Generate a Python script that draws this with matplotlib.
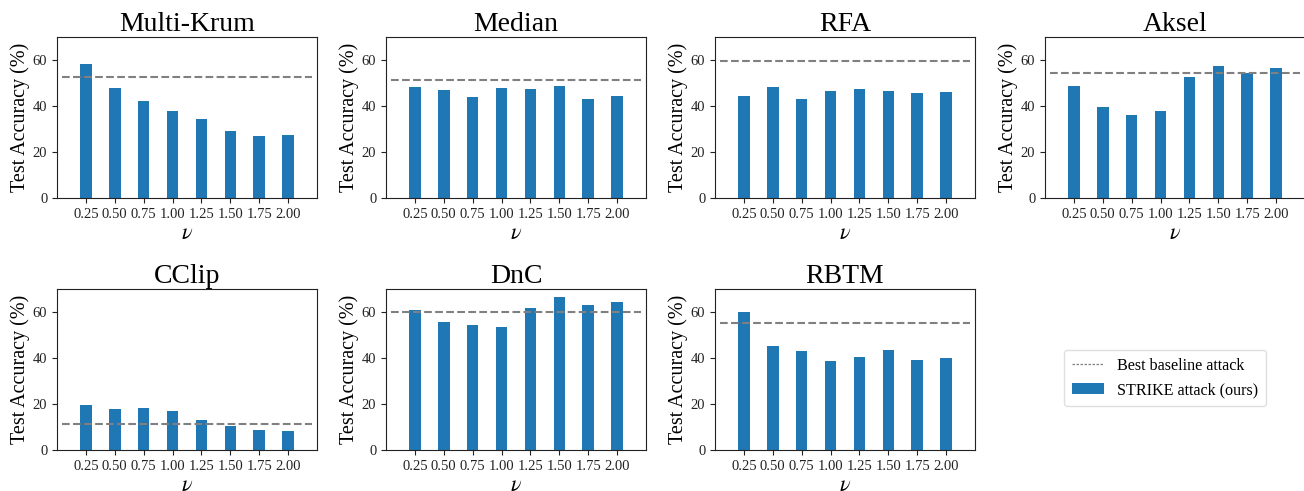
import matplotlib
matplotlib.use("Agg")
import matplotlib.pyplot as plt
from matplotlib.lines import Line2D
from matplotlib.patches import Patch

plt.rcParams['font.family'] = ['Liberation Serif', 'DejaVu Serif']
plt.rcParams['mathtext.fontset'] = 'stix'

nu = [0.25, 0.50, 0.75, 1.00, 1.25, 1.50, 1.75, 2.00]
tick_labels = ["0.25", "0.50", "0.75", "1.00", "1.25", "1.50", "1.75", "2.00"]

defenses = ["Multi-Krum", "Median", "RFA", "Aksel", "CClip", "DnC", "RBTM"]

strike_multikrum = [58.4, 47.8, 42.3, 38.0, 34.5, 29.3, 27.1, 27.5]
strike_median = [48.4, 47.1, 44.1, 48.0, 47.5, 48.8, 43.2, 44.5]
strike_rfa = [44.5, 48.4, 43.2, 46.7, 47.5, 46.7, 45.8, 46.2]
strike_aksel = [48.8, 39.7, 36.2, 38.0, 52.8, 57.5, 54.5, 56.5]
strike_cclip = [19.7, 18.0, 18.4, 17.1, 13.2, 10.6, 8.8, 8.4]
strike_dnc = [61.0, 55.8, 54.5, 53.6, 61.9, 66.7, 63.2, 64.5]
strike_rbtm = [60.1, 45.4, 43.2, 38.8, 40.6, 43.6, 39.3, 40.1]

baseline_best = [52.6, 51.3, 59.7, 54.2, 11.3, 59.9, 55.4]

strike_all = [strike_multikrum, strike_median, strike_rfa, strike_aksel,
              strike_cclip, strike_dnc, strike_rbtm]

bar_color = "#1f77b4"
line_color = "#808080"
frame_color = "#222222"

fig = plt.figure(figsize=(13.04, 4.91), dpi=100)
W, H = 1304.0, 491.0
col_left = [57, 386, 715, 1045]
ax_w = 260
rows = [(37, 198), (289, 450)]

for i, name in enumerate(defenses):
    r, c = divmod(i, 4)
    top, bottom = rows[r]
    ax = fig.add_axes([col_left[c] / W, 1 - bottom / H, ax_w / W, (bottom - top) / H])
    ax.bar(nu, strike_all[i], width=0.1, color=bar_color, zorder=2)
    ax.axhline(baseline_best[i], xmin=0.02, xmax=0.98, color=line_color,
               linestyle="--", linewidth=1.5, zorder=3)
    ax.set_xlim(0, 2.25)
    ax.set_ylim(0, 70)
    ax.set_xticks(nu)
    ax.set_xticklabels(tick_labels)
    ax.set_yticks([0, 20, 40, 60])
    for s in ax.spines.values():
        s.set_color(frame_color)
    ax.tick_params(axis="both", length=3.5, width=0.8, color=frame_color,
                   labelcolor=frame_color, labelsize=10.5, pad=3.5)
    ax.set_title(name, fontsize=20, pad=4)
    ax.set_ylabel("Test Accuracy (%)", fontsize=14.5, labelpad=2)
    ax.set_xlabel(r"$\nu$", fontsize=16, labelpad=3)

handles = [Line2D([0], [0], color=line_color, linestyle="--", linewidth=0.9,
                  dashes=(2, 1.2)),
           Patch(facecolor=bar_color)]
labels = ["Best baseline attack", "STRIKE attack (ours)"]
fig.legend(handles, labels, loc="center", bbox_to_anchor=(1165 / W, 1 - 378 / H),
           fontsize=11.6, frameon=True, edgecolor="#d8d8d8", handlelength=2.0,
           borderpad=0.5, labelspacing=0.5)

fig.savefig("out.png", dpi=100)
